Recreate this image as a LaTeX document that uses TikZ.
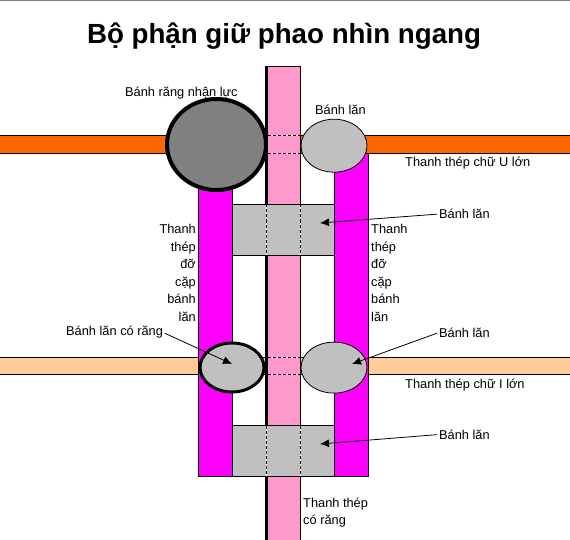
\documentclass[tikz,border=0pt]{standalone}
\usepackage{fontspec}
\setmainfont{Liberation Sans}
\usetikzlibrary{arrows.meta}
\definecolor{pinkbar}{RGB}{255,153,204}
\definecolor{orangebar}{RGB}{255,102,0}
\definecolor{peachbar}{RGB}{255,204,153}
\definecolor{wheel}{RGB}{192,192,192}
\definecolor{bigwheel}{RGB}{128,128,128}
\definecolor{frameline}{RGB}{128,128,128}
\definecolor{sidebar}{RGB}{255,0,255}
\tikzset{
 lbl/.style={font=\fontsize{12.8}{14}\selectfont,inner sep=0pt,text=black},
 stack/.style={inner sep=0pt,text=black,font=\fontsize{12.8}{17.6}\selectfont},
 fillbox/.style={draw=black,line width=0.8pt},
 ptr/.style={-{Latex[length=9pt,width=8pt]},line width=0.8pt,shorten <=2pt},
 dsh/.style={dash pattern=on 3pt off 2pt,line width=0.8pt},
 dshw/.style={white,line width=0.8pt},
}
\begin{document}
\begin{tikzpicture}[x=1pt,y=-1pt]
\useasboundingbox (0,0) rectangle (570,540);
\fill[white] (0,0) rectangle (570,540);
\draw[frameline,line width=1pt] (0,0.5) -- (570,0.5);
% horizontal bars
\draw[fillbox,fill=orangebar] (-2,135) rectangle (572,153);
\draw[fillbox,fill=peachbar] (-2,357.5) rectangle (572,374.5);
% side bars
\draw[fillbox,fill=sidebar] (198.5,170) rectangle (232.3,476);
\draw[fillbox,fill=sidebar] (334.3,153) rectangle (368.3,476);
% centre bar
\draw[fillbox,fill=pinkbar] (267,66.5) rectangle (300,542);
\draw[black,line width=3pt] (266.5,66) -- (266.5,542);
% crossing marks on the centre bar
\draw[dshw] (268,135) -- (301,135);
\draw[dshw] (268,153) -- (301,153);
\draw[dshw] (268,357.5) -- (301,357.5);
\draw[dshw] (268,374.5) -- (301,374.5);
\draw[dsh] (268,135) -- (301,135);
\draw[dsh] (268,153) -- (301,153);
\draw[dsh] (268,357.5) -- (301,357.5);
\draw[dsh] (268,374.5) -- (301,374.5);
% grey blocks
\node[fillbox,fill=wheel,minimum width=102pt,minimum height=50.7pt,inner sep=0pt] (blockA) at (283.3,229.7) {};
\node[fillbox,fill=wheel,minimum width=102pt,minimum height=50.7pt,inner sep=0pt] (blockB) at (283.3,450.7) {};
\draw[dshw] (266.5,204.5) -- (266.5,255);
\draw[dshw] (300,204.5) -- (300,255);
\draw[dshw] (266.5,425.5) -- (266.5,476);
\draw[dshw] (300,425.5) -- (300,476);
\draw[dsh] (266.5,204.5) -- (266.5,255);
\draw[dsh] (300,204.5) -- (300,255);
\draw[dsh] (266.5,425.5) -- (266.5,476);
\draw[dsh] (300,425.5) -- (300,476);
% wheels
\draw[black,line width=4pt,fill=bigwheel] (216.5,144.5) ellipse [x radius=49.5,y radius=45.5];
\draw[black,line width=0.8pt,fill=wheel] (334,145.7) ellipse [x radius=33,y radius=26.5];
\draw[black,line width=3pt,fill=wheel] (232,367.5) ellipse [x radius=32,y radius=24.5];
\draw[black,line width=0.8pt,fill=wheel] (334,367.6) ellipse [x radius=33,y radius=25.5];
% title
\node[inner sep=0pt,font=\bfseries\fontsize{27.7}{32}\selectfont] (title) at (284,36.5) {Bộ phận giữ phao nhìn ngang};
% labels
\node[lbl,anchor=west] (lgear) at (125,93) {Bánh răng nhận lực};
\node[lbl,anchor=west] (lroll) at (315,109.5) {Bánh lăn};
\node[lbl,anchor=west] (lu) at (405,163.5) {Thanh thép chữ U lớn};
\node[lbl,anchor=west] (li) at (405,385) {Thanh thép chữ I lớn};
\node[lbl,anchor=west] (lr1) at (439,214) {Bánh lăn};
\node[lbl,anchor=west] (lr2) at (439,332.5) {Bánh lăn};
\node[lbl,anchor=west] (lr3) at (439,434.5) {Bánh lăn};
\node[lbl,anchor=west] (lteeth) at (66,332.5) {Bánh lăn có răng};
\node[stack,anchor=north east,align=right] (lsl) at (196,224) {Thanh\\thép\\đỡ\\cặp\\bánh\\lăn};
\node[stack,anchor=north west,align=left] (lsr) at (371,224) {Thanh\\thép\\đỡ\\cặp\\bánh\\lăn};
\node[inner sep=0pt,text=black,anchor=north west,align=left,font=\fontsize{12.8}{17.6}\selectfont] (lbar) at (303,497.5) {Thanh thép\\có răng};
% arrows
\draw[ptr] (lr1.west) -- (320,223);
\draw[ptr] (lr3.west) -- (320,444);
\draw[ptr] (lr2.west) -- (352,364);
\draw[ptr] (lteeth.east) -- (232,364);
\end{tikzpicture}
\end{document}
